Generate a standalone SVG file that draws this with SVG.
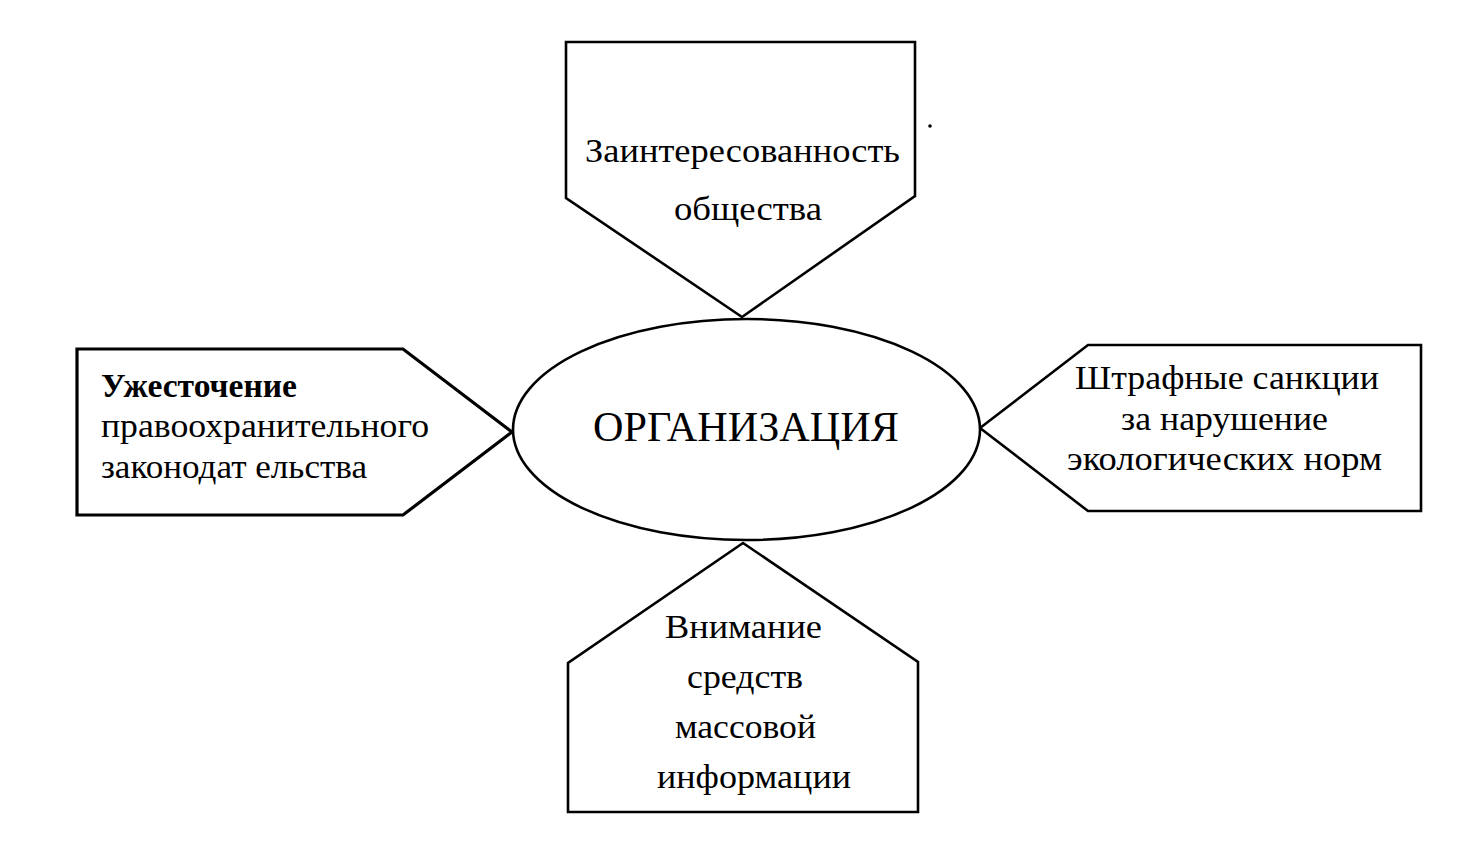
<svg xmlns="http://www.w3.org/2000/svg" width="1481" height="847" viewBox="0 0 1481 847">
<style>
.shape{fill:#fff;stroke:#000;stroke-width:2.6;stroke-linejoin:miter}
.heavy{stroke-width:3.2}
.t{font-family:"Liberation Serif","Times New Roman",serif;font-size:34px;fill:#000}
</style>
<rect width="1481" height="847" fill="#fff"/>
<g id="connectors"></g>
<g id="node-top">
<polygon class="shape" points="566,42 915,42 915,196 742,317 566,198"/>
<text class="t" x="585" y="162" textLength="315" lengthAdjust="spacingAndGlyphs">Заинтересованность</text>
<text class="t" x="674" y="220" textLength="148" lengthAdjust="spacingAndGlyphs">общества</text>
</g>
<g id="node-left">
<polygon class="shape heavy" points="77,349 403,349 512,432 403,515 77,515"/>
<text class="t" x="101" y="397" font-weight="bold" textLength="196" lengthAdjust="spacingAndGlyphs">Ужесточение</text>
<text class="t" x="101" y="437" textLength="328" lengthAdjust="spacingAndGlyphs">правоохранительного</text>
<text class="t" x="101" y="478" textLength="266" lengthAdjust="spacingAndGlyphs">законодат ельства</text>
</g>
<g id="node-right">
<polygon class="shape" points="980,428 1088,345 1421,345 1421,511 1088,511"/>
<text class="t" x="1075" y="389" textLength="304" lengthAdjust="spacingAndGlyphs">Штрафные санкции</text>
<text class="t" x="1121" y="430" textLength="207" lengthAdjust="spacingAndGlyphs">за нарушение</text>
<text class="t" x="1067" y="470" textLength="315" lengthAdjust="spacingAndGlyphs">экологических норм</text>
</g>
<g id="node-bottom">
<polygon class="shape" points="743,543 918,662 918,812 568,812 568,663"/>
<text class="t" x="665" y="638" textLength="157" lengthAdjust="spacingAndGlyphs">Внимание</text>
<text class="t" x="687" y="688" textLength="116" lengthAdjust="spacingAndGlyphs">средств</text>
<text class="t" x="675" y="738" textLength="141" lengthAdjust="spacingAndGlyphs">массовой</text>
<text class="t" x="657" y="788" textLength="194" lengthAdjust="spacingAndGlyphs">информации</text>
</g>
<g id="node-center">
<ellipse class="shape" cx="746.5" cy="429.5" rx="233.5" ry="110.5"/>
<text class="t" x="593" y="441" style="font-size:42px" textLength="306" lengthAdjust="spacingAndGlyphs">ОРГАНИЗАЦИЯ</text>
</g>
<circle cx="930" cy="126" r="1.8" fill="#000"/>
</svg>
